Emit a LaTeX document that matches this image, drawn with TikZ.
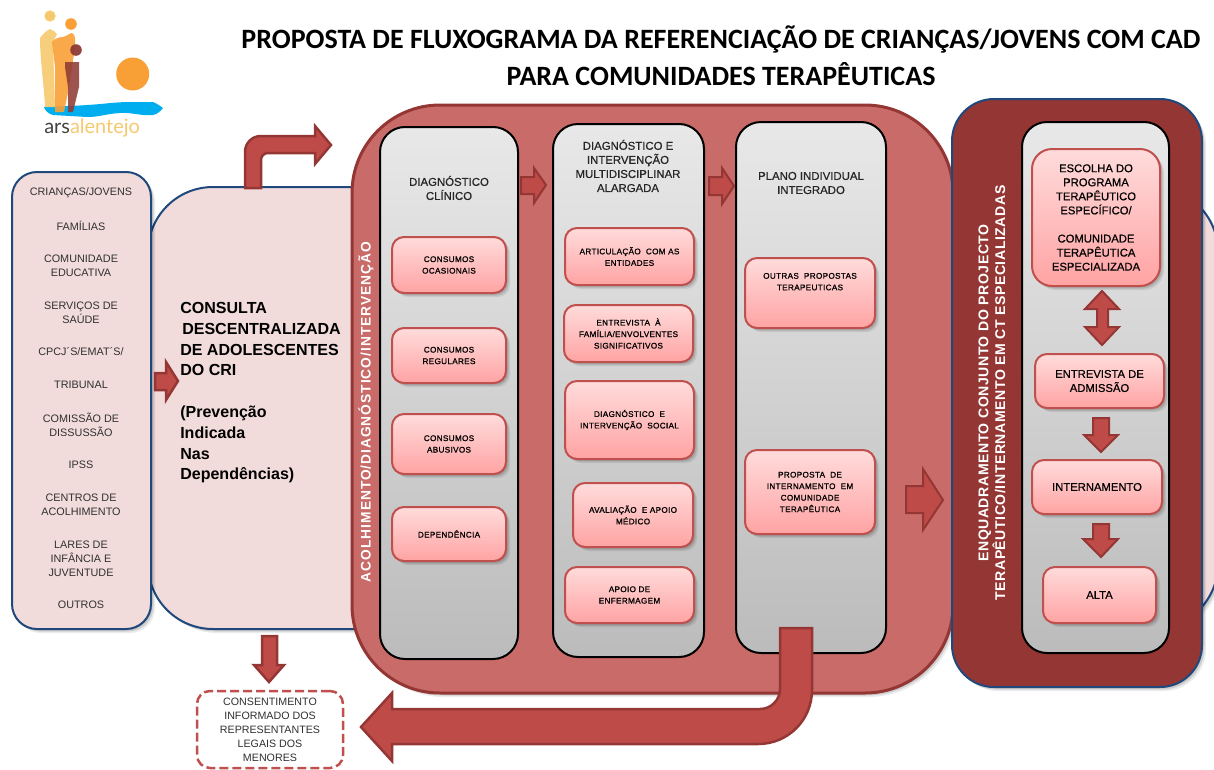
\documentclass[tikz,border=0pt]{standalone}
\usepackage{fontspec}
\setmainfont{Liberation Sans}
\newfontfamily\titlefont{Carlito}
\newfontfamily\logofont{Lato}
\newfontfamily\spacedfont[LetterSpace=7]{Liberation Sans}
\newfontfamily\ctfont[LetterSpace=4]{Liberation Sans}
\newfontfamily\headfont[FakeBold=0.6]{Liberation Sans}
\newfontfamily\itemfont[LetterSpace=4,FakeBold=0.9]{Liberation Sans}
\usetikzlibrary{shadows}
\newdimen\px
\px=0.025cm
\definecolor{pinkFill}{HTML}{F2DCDB}
\definecolor{blueLine}{HTML}{1F497D}
\definecolor{redFill}{HTML}{C86B69}
\definecolor{redDark}{HTML}{943634}
\definecolor{arrowFill}{HTML}{BE4B48}
\definecolor{itemLine}{HTML}{C0504D}
\definecolor{textGray}{HTML}{303030}
\definecolor{logoSand}{HTML}{F5C96E}
\definecolor{logoOrange}{HTML}{F8A035}
\definecolor{logoBrown}{HTML}{8F3B36}
\definecolor{logoWater}{HTML}{00AEEF}
\tikzset{
  softshadow/.style={
    drop shadow={shadow xshift=1\px,shadow yshift=-1\px,opacity=.14,fill=black},
    drop shadow={shadow xshift=2.5\px,shadow yshift=-2.5\px,opacity=.12,fill=black},
    drop shadow={shadow xshift=4\px,shadow yshift=-4\px,opacity=.08,fill=black}},
  listbox/.style={draw=blueLine,line width=2\px,fill=pinkFill,softshadow,anchor=north west,inner sep=0pt,outer sep=0pt},
  bigbox/.style={draw=redDark,line width=3\px,fill=redFill,softshadow,anchor=north west,inner sep=0pt,outer sep=0pt},
  column/.style={draw=black,line width=2\px,top color=gray!18,bottom color=gray!53,anchor=north west,rounded corners=25\px,inner sep=0pt,outer sep=0pt},
  item/.style={draw=itemLine,line width=2\px,top color=red!14,bottom color=red!36,softshadow,anchor=north west,rounded corners=12\px,align=center,inner sep=0pt,outer sep=0pt,font=\itemfont\fontsize{5.8}{8.2}\selectfont},
  bigitem/.style={item,font=\headfont\fontsize{8}{10}\selectfont},
  listtext/.style={align=center,text=textGray,inner sep=0pt,font=\fontsize{7.7}{9.9}\selectfont},
  head/.style={align=center,text=black!85,inner sep=0pt,font=\headfont\fontsize{8.1}{10}\selectfont},
  blockarrow/.style={draw=redDark,line width=2.5\px,fill=arrowFill,line join=miter},
}
\begin{document}
\begin{tikzpicture}[x=0.025cm,y=-0.025cm]
  \useasboundingbox (0,0) rectangle (1214,769);

  % logo
  \fill [logoWater] (44,107) .. controls (60,106) and (75,106) .. (87,105) .. controls (105,104) and (115,102) .. (130,102) -- (153,102) .. controls (158,104) and (160,106) .. (163,108) .. controls (160,112) and (157,114) .. (153,115) .. controls (140,116) and (130,112) .. (120,113) .. controls (105,114) and (100,117) .. (87,117) -- (53,115) .. controls (48,114) and (45,110) .. (44,107) -- cycle;
  \fill [logoSand,opacity=.9] (50,29) .. controls (53,30) and (55,32) .. (57,34) -- (53,42) -- (55,107) -- (45,107) .. controls (44,85) and (40,60) .. (40,38) .. controls (43,34) and (46,31) .. (50,29) -- cycle;
  \fill [logoOrange,opacity=.9] (52,42) .. controls (55,38) and (60,37) .. (63,37) .. controls (67,36) and (70,33) .. (72,33) .. controls (74,34) and (75,36) .. (75,38) -- (75,50) .. controls (72,62) and (71,80) .. (65,107) -- (64,112) -- (55,112) -- (55,67) -- cycle;
  \fill [logoBrown,opacity=.88] (65,62) -- (79,62) -- (79,87) -- (73,112) -- (68,112) -- (68,87) -- (65,67) -- cycle;
  \fill [logoSand] (50,16) circle (5.6);
  \fill [logoOrange] (71,24) circle (5.8);
  \fill [logoBrown,opacity=.95] (76,50) circle (5.8);
  \fill [logoOrange] (132.7,74) circle (16.5);
  \node (logoText) [anchor=base west,inner sep=0pt,font=\logofont\fontsize{14.2}{15}\selectfont] at (44,133) {\textcolor{black!75}{ars}\textcolor{logoSand}{alentejo}};

  % title
  \node (titleText) [align=center,inner sep=0pt,font=\titlefont\bfseries\fontsize{19.9}{26.3}\selectfont] at (721,55.5) {PROPOSTA DE FLUXOGRAMA DA REFERENCIAÇÃO DE CRIANÇAS/JOVENS COM CAD\\PARA COMUNIDADES TERAPÊUTICAS};

  % boxes at the back
  \node (outerRight) [listbox,rounded corners=65\px,minimum width=218\px,minimum height=442\px] at (1000,187) {};
  \node (consulta) [listbox,rounded corners=65\px,minimum width=350\px,minimum height=442\px] at (148,187) {};
  \node (sources) [listbox,rounded corners=25\px,minimum width=139\px,minimum height=457\px] at (12,172) {};

  \node (srcA) [listtext] at (81,193) {CRIANÇAS/JOVENS};
  \node (srcB) [listtext] at (81,226) {FAMÍLIAS};
  \node (srcC) [listtext] at (81,266) {COMUNIDADE\\EDUCATIVA};
  \node (srcD) [listtext] at (81,313) {SERVIÇOS DE\\SAÚDE};
  \node (srcE) [listtext] at (81,352) {CPCJ´S/EMAT´S/};
  \node (srcF) [listtext] at (81,385) {TRIBUNAL};
  \node (srcG) [listtext] at (81,425) {COMISSÃO DE\\DISSUSSÃO};
  \node (srcH) [listtext] at (81,465) {IPSS};
  \node (srcI) [listtext] at (81,505) {CENTROS DE\\ACOLHIMENTO};
  \node (srcJ) [listtext] at (81,559) {LARES DE\\INFÂNCIA E\\JUVENTUDE};
  \node (srcK) [listtext] at (81,605) {OUTROS};

  \node (consultaText) [anchor=north west,align=left,inner sep=0pt,font=\fontsize{11.4}{14.8}\selectfont\bfseries] at (180,302) {CONSULTA\\\hspace*{2\px}DESCENTRALIZADA\\DE ADOLESCENTES\\DO CRI\\[14.8pt](Prevenção\\Indicada\\Nas\\Dependências)};

  \draw [blockarrow] (245,188) -- (245,152) .. controls (245,143) and (252,136) .. (261,136) -- (315,136) -- (315,126) -- (331,145) -- (315,164) -- (315,153) -- (268,153) .. controls (264,153) and (261,156) .. (261,160) -- (261,188) -- cycle;
  \draw [blockarrow] (155,373) -- (166,373) -- (166,362) -- (178,381) -- (166,400) -- (166,390) -- (155,390) -- cycle;
  \draw [blockarrow] (262,636) -- (277,636) -- (277,665) -- (284,665) -- (269,682) -- (254,665) -- (262,665) -- cycle;

  \node (consent) [draw=itemLine,line width=2.5\px,dash pattern=on 9\px off 4\px,rounded corners=13\px,anchor=north west,inner sep=0pt,outer sep=0pt,align=center,minimum width=146\px,minimum height=77\px,text=textGray,font=\fontsize{7.6}{9.9}\selectfont] at (197,691) {CONSENTIMENTO\\INFORMADO DOS\\REPRESENTANTES\\LEGAIS DOS\\MENORES};

  % acolhimento
  \node (acolhimento) [bigbox,rounded corners=88\px,minimum width=601\px,minimum height=588\px] at (352,105) {};
  \node (acolhimentoText) [rotate=90,text=white,inner sep=0pt,font=\spacedfont\bfseries\fontsize{9.8}{10}\selectfont] at (366,412) {ACOLHIMENTO/DIAGNÓSTICO/INTERVENÇÃO};

  \node (colClinico) [column,minimum width=138\px,minimum height=532\px] at (380,127) {};
  \node (colMulti) [column,minimum width=151\px,minimum height=533\px] at (553,124) {};
  \node (colPlano) [column,minimum width=150\px,minimum height=531\px] at (736,122) {};

  \node (headClinico) [head] at (449,188) {DIAGNÓSTICO\\CLÍNICO};
  \node (headMulti) [head] at (628,166) {DIAGNÓSTICO E\\INTERVENÇÃO\\MULTIDISCIPLINAR\\ALARGADA};
  \node (headPlano) [head] at (811,183) {PLANO INDIVIDUAL\\INTEGRADO};

  \node (ocasionais) [item,minimum width=114\px,minimum height=56\px] at (392,237) {CONSUMOS\\OCASIONAIS};
  \node (regulares) [item,minimum width=114\px,minimum height=55\px] at (392,328) {CONSUMOS\\REGULARES};
  \node (abusivos) [item,minimum width=114\px,minimum height=60\px] at (392,414) {CONSUMOS\\ABUSIVOS};
  \node (dependencia) [item,minimum width=114\px,minimum height=54\px] at (392,507) {DEPENDÊNCIA};

  \node (articulacao) [item,minimum width=129\px,minimum height=57\px] at (565,228) {ARTICULAÇÃO\ \ COM AS\\ENTIDADES};
  \node (entrevistaFam) [item,minimum width=129\px,minimum height=57\px] at (564,305) {ENTREVISTA\ \ À\\FAMÍLIA/ENVOLVENTES\\SIGNIFICATIVOS};
  \node (social) [item,minimum width=129\px,minimum height=78\px] at (565,381) {DIAGNÓSTICO\ \ E\\INTERVENÇÃO\ \ SOCIAL};
  \node (medico) [item,minimum width=120\px,minimum height=64\px] at (573,483) {AVALIAÇÃO\ \ E APOIO\\MÉDICO};
  \node (enfermagem) [item,minimum width=129\px,minimum height=56\px] at (565,567) {APOIO DE\\ENFERMAGEM};

  \node (outras) [item,minimum width=130\px,minimum height=70\px] at (745,258) {OUTRAS\ \ PROPOSTAS\\TERAPEUTICAS\\[8pt]};
  \node (proposta) [item,minimum width=130\px,minimum height=84\px] at (745,450) {PROPOSTA\ \ DE\\INTERNAMENTO\ \ EM\\COMUNIDADE\\TERAPÊUTICA};

  \draw [blockarrow,line width=2\px] (521,177) -- (534,177) -- (534,168) -- (546,185) -- (534,203) -- (534,194) -- (521,194) -- cycle;
  \draw [blockarrow,line width=2\px] (709,177) -- (722,177) -- (722,168) -- (734,186) -- (722,204) -- (722,195) -- (709,195) -- cycle;
  \draw [blockarrow,line width=2\px] (906,486) -- (923,486) -- (923,469) -- (943,500) -- (923,530) -- (923,513) -- (906,513) -- cycle;

  % enquadramento
  \node (enquadramento) [draw=blueLine,line width=2\px,fill=redDark,softshadow,anchor=north west,inner sep=0pt,outer sep=0pt,rounded corners=42\px,minimum width=250\px,minimum height=588\px] at (952,99) {};
  \node (enquadramentoText) [rotate=90,align=center,text=white,inner sep=0pt,font=\ctfont\bfseries\fontsize{10}{10}\selectfont] at (992,393) {ENQUADRAMENTO CONJUNTO DO PROJECTO\\TERAPÊUTICO/INTERNAMENTO EM CT ESPECIALIZADAS};
  \node (colCT) [column,minimum width=147\px,minimum height=531\px] at (1022,122) {};

  \node (escolha) [bigitem,rounded corners=20\px,minimum width=128\px,minimum height=137\px] at (1032,149) {ESCOLHA DO\\PROGRAMA\\TERAPÊUTICO\\ESPECÍFICO/\\[10pt]COMUNIDADE\\TERAPÊUTICA\\ESPECIALIZADA};
  \node (admissao) [bigitem,minimum width=129\px,minimum height=54\px] at (1035,354) {ENTREVISTA DE\\ADMISSÃO};
  \node (internamento) [bigitem,minimum width=130\px,minimum height=54\px] at (1032,460) {INTERNAMENTO};
  \node (alta) [bigitem,minimum width=113\px,minimum height=56\px] at (1043,567) {ALTA};

  \draw [blockarrow,line width=2\px] (1102,291) -- (1119,309) -- (1108,309) -- (1108,327) -- (1119,327) -- (1102,345) -- (1085,327) -- (1097,327) -- (1097,309) -- (1085,309) -- cycle;
  \draw [blockarrow,line width=2\px] (1093,418) -- (1109,418) -- (1109,435) -- (1118,435) -- (1101,452) -- (1084,435) -- (1093,435) -- cycle;
  \draw [blockarrow,line width=2\px] (1093,524) -- (1109,524) -- (1109,539) -- (1118,539) -- (1101,557) -- (1083,539) -- (1093,539) -- cycle;

  \draw [blockarrow] (780,628) -- (812,628) -- (812,690) .. controls (812,720) and (788,744) .. (758,744) -- (392,744) -- (392,761) -- (361,727) -- (392,693) -- (392,709) -- (760,709) .. controls (771,709) and (780,700) .. (780,689) -- cycle;
\end{tikzpicture}
\end{document}
